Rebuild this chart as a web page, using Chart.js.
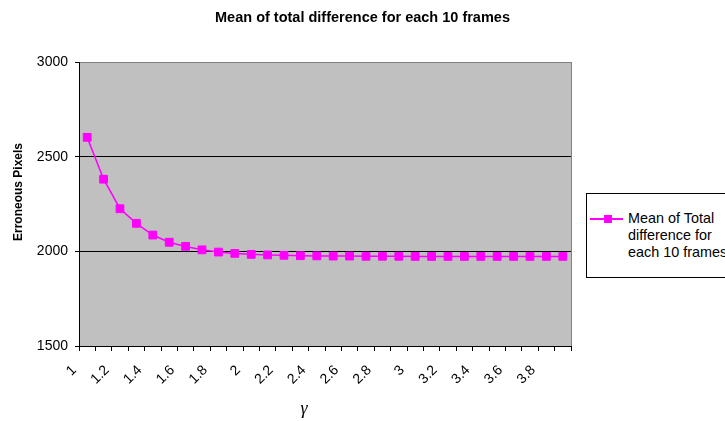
<!DOCTYPE html>
<html>
<head>
<meta charset="utf-8">
<script src="https://cdn.jsdelivr.net/npm/chart.js@4/dist/chart.umd.min.js"></script>
<style>
    body { margin: 0; background: #fff; font-family: Arial, 'Liberation Sans', sans-serif; }
    #wrap { position: relative; width: 725px; height: 421px; overflow: hidden; }
    #legend { position: absolute; left: 586px; top: 193px; width: 150px; height: 85px; border: 1px solid #000; background: #fff; box-sizing: border-box; }
    #legend .line { position: absolute; left: 3px; top: 24px; width: 33px; height: 2px; background: #ff00ff; }
    #legend .mark { position: absolute; left: 17px; top: 21px; width: 8px; height: 8px; background: #ff00ff; }
    #legend .txt { position: absolute; left: 41px; top: 16px; font-size: 14.4px; line-height: 17px; color: #000; white-space: nowrap; }
</style>
</head>
<body>
<div id="wrap">
    <canvas id="chart" width="725" height="421"></canvas>
    <div id="legend">
        <div class="line"></div>
        <div class="mark"></div>
        <div class="txt">Mean of Total<br>difference for<br>each 10 frames</div>
    </div>
</div>
<script>
// gamma values (categories)
const categories = ['1', '1.1', '1.2', '1.3', '1.4', '1.5', '1.6', '1.7', '1.8', '1.9',
    '2', '2.1', '2.2', '2.3', '2.4', '2.5', '2.6', '2.7', '2.8', '2.9',
    '3', '3.1', '3.2', '3.3', '3.4', '3.5', '3.6', '3.7', '3.8', '3.9'];
// only every other category gets a label on the axis
const tickLabels = ['1', '', '1.2', '', '1.4', '', '1.6', '', '1.8', '',
    '2', '', '2.2', '', '2.4', '', '2.6', '', '2.8', '',
    '3', '', '3.2', '', '3.4', '', '3.6', '', '3.8', ''];
const meanDiff = [2602, 2381, 2225, 2148, 2086, 2048, 2026, 2008, 1996, 1989,
    1984, 1981, 1979, 1977, 1976, 1975, 1975, 1974, 1974, 1974,
    1973, 1973, 1973, 1973, 1973, 1973, 1973, 1973, 1973, 1973];
const yTicks = [1500, 2000, 2500, 3000];

// grey plot area, right border, and the two axis titles
const plotDecor = {
    id: 'plotDecor',
    beforeDraw(chart) {
        const { ctx, chartArea: a } = chart;
        ctx.save();
        ctx.fillStyle = '#c0c0c0';
        ctx.fillRect(a.left, a.top, a.right - a.left, a.bottom - a.top);
        ctx.restore();
    },
    beforeDatasetsDraw(chart) {
        const { ctx, chartArea: a } = chart;
        ctx.save();
        ctx.strokeStyle = '#808080';
        ctx.lineWidth = 1;
        ctx.beginPath();
        ctx.moveTo(a.right + 0.5, a.top);
        ctx.lineTo(a.right + 0.5, a.bottom);
        ctx.stroke();
        ctx.restore();
    },
    afterDraw(chart) {
        const { ctx, chartArea: a } = chart;
        ctx.save();
        ctx.fillStyle = '#000';
        ctx.textAlign = 'center';
        ctx.textBaseline = 'middle';
        // y axis title
        ctx.save();
        ctx.translate(19, (a.top + a.bottom) / 2 - 12);
        ctx.rotate(-Math.PI / 2);
        ctx.font = 'bold 12px Arial';
        ctx.fillText('Erroneous Pixels', 0, 0);
        ctx.restore();
        // x axis title
        ctx.font = 'italic 18px "Liberation Serif"';
        ctx.fillText('γ', (a.left + a.right) / 2 - 21, 409);
        ctx.restore();
    }
};

new Chart(document.getElementById('chart'), {
    type: 'line',
    data: {
        labels: categories,
        datasets: [{
            label: 'Mean of Total difference for each 10 frames',
            data: meanDiff,
            borderColor: '#ff00ff',
            backgroundColor: '#ff00ff',
            borderWidth: 1.5,
            pointStyle: 'rect',
            pointRadius: 5.5,
            pointBackgroundColor: '#ff00ff',
            pointBorderColor: '#ff00ff',
            pointBorderWidth: 1,
            tension: 0,
            fill: false
        }]
    },
    options: {
        responsive: false,
        animation: false,
        devicePixelRatio: 1,
        layout: { padding: 0 },
        plugins: {
            legend: { display: false },
            tooltip: { enabled: false },
            title: {
                display: true,
                text: 'Mean of total difference for each 10 frames',
                color: '#000',
                font: { family: 'Arial', size: 14.5, weight: 'bold' },
                padding: { top: 9, bottom: 35.6 }
            }
        },
        scales: {
            x: {
                type: 'category',
                offset: true,
                afterFit: (s) => { s.height = 75; },
                grid: { offset: true, drawOnChartArea: false, drawTicks: true, tickLength: 5, color: '#000' },
                border: { color: '#000', width: 1 },
                ticks: {
                    autoSkip: false,
                    maxRotation: 45,
                    minRotation: 45,
                    padding: 11,
                    labelOffset: -13,
                    color: '#000',
                    font: { family: 'Arial', size: 14 },
                    callback: (v, i) => tickLabels[i]
                }
            },
            y: {
                min: 1500,
                max: 3000,
                afterFit: (s) => { s.width = 79; },
                afterBuildTicks: (s) => { s.ticks = yTicks.map(v => ({ value: v })); },
                grid: {
                    color: (c) => c.tick && c.tick.value === 3000 ? '#808080' : '#000',
                    tickLength: 4,
                    tickColor: '#000'
                },
                border: { color: '#000', width: 1 },
                ticks: {
                    padding: 7,
                    color: '#000',
                    font: { family: 'Arial', size: 14 },
                    callback: (v) => String(v)
                }
            },
            // empty right-hand box that leaves room for the legend
            yLegendSpace: {
                position: 'right',
                display: true,
                afterFit: (s) => { s.width = 154; },
                grid: { display: false },
                border: { display: false },
                ticks: { display: false }
            }
        }
    },
    plugins: [plotDecor]
});
</script>
</body>
</html>
